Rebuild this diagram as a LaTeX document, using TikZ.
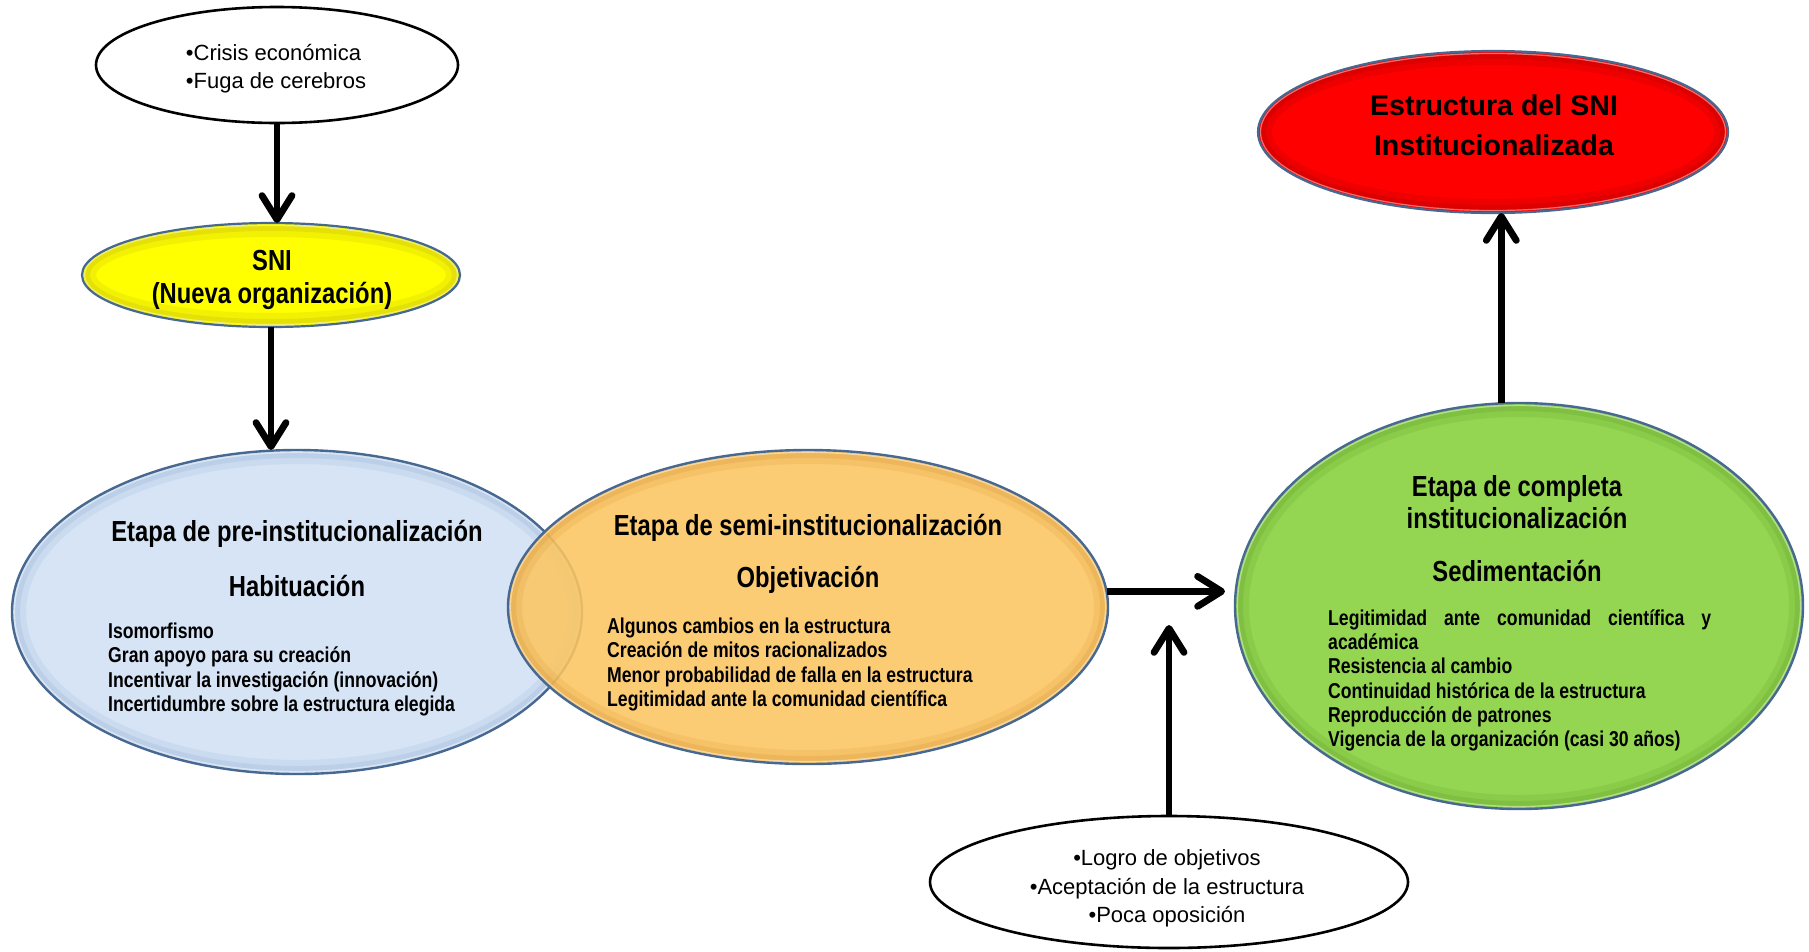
\documentclass[tikz,border=0pt]{standalone}
\usepackage{fontspec}
\setmainfont{Liberation Sans}
\newfontfamily\narrowfont{Liberation Sans}[FakeStretch=0.82]
\usetikzlibrary{shapes.geometric,arrows.meta}

\definecolor{edgeblue}{RGB}{70,104,145}
\definecolor{paleblue}{RGB}{214,228,245}
\definecolor{paleblueshade}{RGB}{150,178,215}
\definecolor{amber}{RGB}{252,198,98}
\definecolor{ambershade}{RGB}{215,150,50}
\definecolor{leaf}{RGB}{148,214,82}
\definecolor{leafshade}{RGB}{95,160,40}
\definecolor{signalred}{RGB}{255,0,0}
\definecolor{redshade}{RGB}{170,0,0}
\definecolor{lemon}{RGB}{255,255,0}
\definecolor{lemonshade}{RGB}{190,180,20}

\newcommand\titlef{\narrowfont\bfseries\fontsize{29}{32}\selectfont}
\newcommand\bodyf{\narrowfont\bfseries\fontsize{21.5}{24.3}\selectfont}
\newcommand\plainf{\fontsize{22}{28.5}\selectfont}

% darker band just inside an ellipse rim: node, x radius, y radius, colour
\newcommand\rimshade[4]{%
  \draw[#4, line width=12pt, opacity=0.18] (#1.center) ellipse [x radius=#2-8, y radius=#3-8];
  \draw[#4, line width=6pt, opacity=0.25] (#1.center) ellipse [x radius=#2-5, y radius=#3-5];
  \draw[white, line width=1.2pt, opacity=0.45] (#1.center) ellipse [x radius=#2-2.5, y radius=#3-2.5];
}

\tikzset{
  oval/.style={ellipse, inner sep=0pt, outer sep=0pt},
  plainoval/.style={oval, draw=black, line width=2.6pt, fill=white},
  arr/.style={line width=6.8pt, -{Straight Barb[length=24pt, width=30pt, line cap=round, line join=round]}},
  label/.style={inner sep=0pt, text=black},
}

\begin{document}
\begin{tikzpicture}[x=1pt, y=-1pt]
\useasboundingbox[fill=white] (0,0) rectangle (1809,951);

% outside causes
\node[plainoval, minimum width=362, minimum height=116] (crisis) at (277,65) {};
% the new organisation
\node[oval, fill=lemon, minimum width=378, minimum height=104] (sni) at (271,275) {};
\rimshade{sni}{189}{52}{lemonshade}
\draw[edgeblue, line width=2.2pt] (sni.center) ellipse [x radius=189, y radius=52];

% stage 1
\node[oval, fill=paleblue, minimum width=570, minimum height=324] (blue) at (297,612) {};
\rimshade{blue}{285}{162}{paleblueshade}
\draw[edgeblue, line width=2.4pt] (blue.center) ellipse [x radius=285, y radius=162];

% stage 2, lying partly over stage 1
\node[oval, fill=amber, fill opacity=0.88, minimum width=600, minimum height=314] (orange) at (808,607) {};
\rimshade{orange}{300}{157}{ambershade}
\draw[edgeblue, line width=2.4pt] (orange.center) ellipse [x radius=300, y radius=157];

% stage 3
\node[oval, fill=leaf, minimum width=568, minimum height=406] (green) at (1519,606) {};
\rimshade{green}{284}{203}{leafshade}
\draw[edgeblue, line width=2.4pt] (green.center) ellipse [x radius=284, y radius=203];

% outcome
\node[oval, fill=signalred, minimum width=470, minimum height=162] (red) at (1493,132) {};
\rimshade{red}{235}{81}{redshade}
\draw[edgeblue, line width=2.2pt] (red.center) ellipse [x radius=235, y radius=81];

% supporting factors
\node[plainoval, minimum width=478, minimum height=132] (factors) at (1169,882) {};

% connectors
\coordinate (meet) at (1169,625);
\draw[arr] (crisis.south) -- (crisis.south |- sni.north);
\draw[arr] (sni.south) -- (sni.south |- blue.north);
\draw[arr, shorten >=10pt] (orange.3) -- (orange.3 -| green.west);
\draw[arr] (factors.north) -- (meet);
\draw[arr] (green.95) -- (green.95 |- red.south);

% texts
\node[label, align=left, font=\plainf] (crisistext) at (276,68.5)
  {•Crisis económica\\•Fuga de cerebros};
\node[label, align=center, font=\narrowfont\bfseries\fontsize{29}{32.5}\selectfont] (snitext) at (272,280)
  {SNI\\(Nueva organización)};

\node[label, font=\titlef] (bluetitle) at (297,534) {Etapa de pre-institucionalización};
\node[label, font=\titlef] (bluesub) at (297,586) {Habituación};
\node[label, anchor=west, align=left, font=\bodyf] (bluebody) at (108,669.5)
  {Isomorfismo\\Gran apoyo para su creación\\Incentivar la investigación (innovación)\\Incertidumbre sobre la estructura elegida};

\node[label, font=\titlef] (orangetitle) at (808,528) {Etapa de semi-institucionalización};
\node[label, font=\titlef] (orangesub) at (808,580) {Objetivación};
\node[label, anchor=west, align=left, font=\bodyf] (orangebody) at (607,664.5)
  {Algunos cambios en la estructura\\Creación de mitos racionalizados\\Menor probabilidad de falla en la estructura\\Legitimidad ante la comunidad científica};

\node[label, align=center, font=\titlef] (greentitle) at (1517,502)
  {Etapa de completa\\institucionalización};
\node[label, font=\titlef] (greensub) at (1517,571) {Sedimentación};
\node[label, anchor=west, align=left, font=\bodyf] (greenbody) at (1328,680.5)
  {\makebox[383pt][s]{Legitimidad ante comunidad científica y}\\académica\\Resistencia al cambio\\Continuidad histórica de la estructura\\Reproducción de patrones\\Vigencia de la organización (casi 30 años)};

\node[label, align=center, font=\bfseries\fontsize{28.6}{40}\selectfont] (redtext) at (1494,125)
  {Estructura del SNI\\Institucionalizada};

\node[label, align=center, font=\plainf] (factorstext) at (1167,888.5)
  {•Logro de objetivos\\•Aceptación de la estructura\\•Poca oposición};
\end{tikzpicture}
\end{document}
